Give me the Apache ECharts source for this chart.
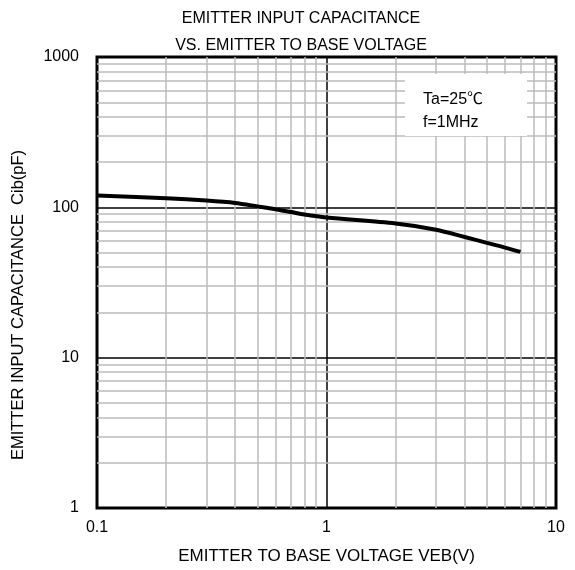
<!DOCTYPE html>
<html>
<head>
<meta charset="utf-8">
<script src="https://cdn.jsdelivr.net/npm/echarts@6/dist/echarts.min.js"></script>
<style>
  html, body { margin: 0; padding: 0; background: #fff; }
  #main { width: 575px; height: 570px; }
</style>
</head>
<body>
<div id="main"></div>
<script>
// 曲线数据 VEB(V) / Cib(pF)
var voltage = [0.1, 0.2, 0.3, 0.4, 0.5, 0.6, 0.7, 0.8, 1, 2, 3, 4, 5, 6, 7];
var capacitance = [120, 115, 111, 107, 101.5, 97, 93, 89.5, 85.5, 78, 71, 63.5, 58, 54, 50.5];

// 辅助网格线（对数刻度的 2~9 倍）
var xMinor = [0.2, 0.3, 0.4, 0.5, 0.6, 0.7, 0.8, 0.9, 2, 3, 4, 5, 6, 7, 8, 9];
var yMinor = [2, 3, 4, 5, 6, 7, 8, 9, 20, 30, 40, 50, 60, 70, 80, 90, 200, 300, 400, 500, 600, 700, 800, 900];

var fontName = '"Liberation Sans", Arial, "Noto Sans CJK JP", sans-serif';

var seriesData = [];
for (var i = 0; i < voltage.length; i++) {
    seriesData.push([voltage[i], capacitance[i]]);
}

var minorLines = [];
for (var i = 0; i < xMinor.length; i++) {
    minorLines.push({ xAxis: xMinor[i] });
}
for (var j = 0; j < yMinor.length; j++) {
    minorLines.push({ yAxis: yMinor[j] });
}

var myChart = echarts.init(document.getElementById('main'));

var option = {
    animation: false,
    backgroundColor: '#fff',
    title: {
        text: 'EMITTER INPUT CAPACITANCE\nVS. EMITTER TO BASE VOLTAGE',
        left: 296,
        top: 0,
        textAlign: 'center',
        textStyle: {
            fontFamily: fontName,
            fontSize: 16,
            fontWeight: 'normal',
            color: '#000',
            lineHeight: 27
        }
    },
    grid: {
        left: 97,
        right: 19,
        top: 57,
        bottom: 62,
        show: true,
        borderColor: '#000',
        borderWidth: 3,
        z: 3
    },
    xAxis: {
        type: 'log',
        logBase: 10,
        min: 0.1,
        max: 10,
        name: 'EMITTER TO BASE VOLTAGE VEB(V)',
        nameLocation: 'middle',
        nameGap: 40,
        nameTextStyle: { fontFamily: fontName, fontSize: 17, color: '#000' },
        axisLine: { show: false },
        axisTick: { show: false },
        axisLabel: {
            fontFamily: fontName,
            fontSize: 16,
            color: '#000',
            margin: 12,
            formatter: function (v) { return String(v); }
        },
        splitLine: { show: true, lineStyle: { color: '#000', width: 1.5 } },
        minorTick: { show: false },
        minorSplitLine: { show: false }
    },
    yAxis: {
        type: 'log',
        logBase: 10,
        min: 1,
        max: 1000,
        axisLine: { show: false },
        axisTick: { show: false },
        axisLabel: {
            fontFamily: fontName,
            fontSize: 16,
            color: '#000',
            margin: 18,
            formatter: function (v) { return String(v); }
        },
        splitLine: { show: true, lineStyle: { color: '#000', width: 1.5 } }
    },
    graphic: [
        {
            type: 'text',
            x: 18,
            y: 305,
            rotation: Math.PI / 2,
            style: {
                text: 'EMITTER INPUT CAPACITANCE  Cib(pF)',
                font: '16.5px ' + fontName,
                textAlign: 'center',
                textVerticalAlign: 'middle',
                fill: '#000'
            }
        },
        {
            type: 'rect',
            z: 10,
            shape: { x: 405, y: 74, width: 122, height: 62 },
            style: { fill: '#fff' }
        },
        {
            type: 'text',
            z: 11,
            left: 423,
            top: 88,
            style: {
                text: 'Ta=25℃\nf=1MHz',
                font: '16px ' + fontName,
                lineHeight: 23,
                fill: '#000'
            }
        }
    ],
    series: [
        {
            name: 'minor',
            type: 'line',
            data: [],
            silent: true,
            z: 1,
            markLine: {
                silent: true,
                symbol: 'none',
                label: { show: false },
                lineStyle: { color: '#bbb', width: 1.5, type: 'solid' },
                data: minorLines
            }
        },
        {
            name: 'Cib',
            type: 'line',
            data: seriesData,
            smooth: 0.3,
            showSymbol: false,
            z: 5,
            lineStyle: { color: '#000', width: 4 }
        }
    ]
};

myChart.setOption(option);
</script>
</body>
</html>
